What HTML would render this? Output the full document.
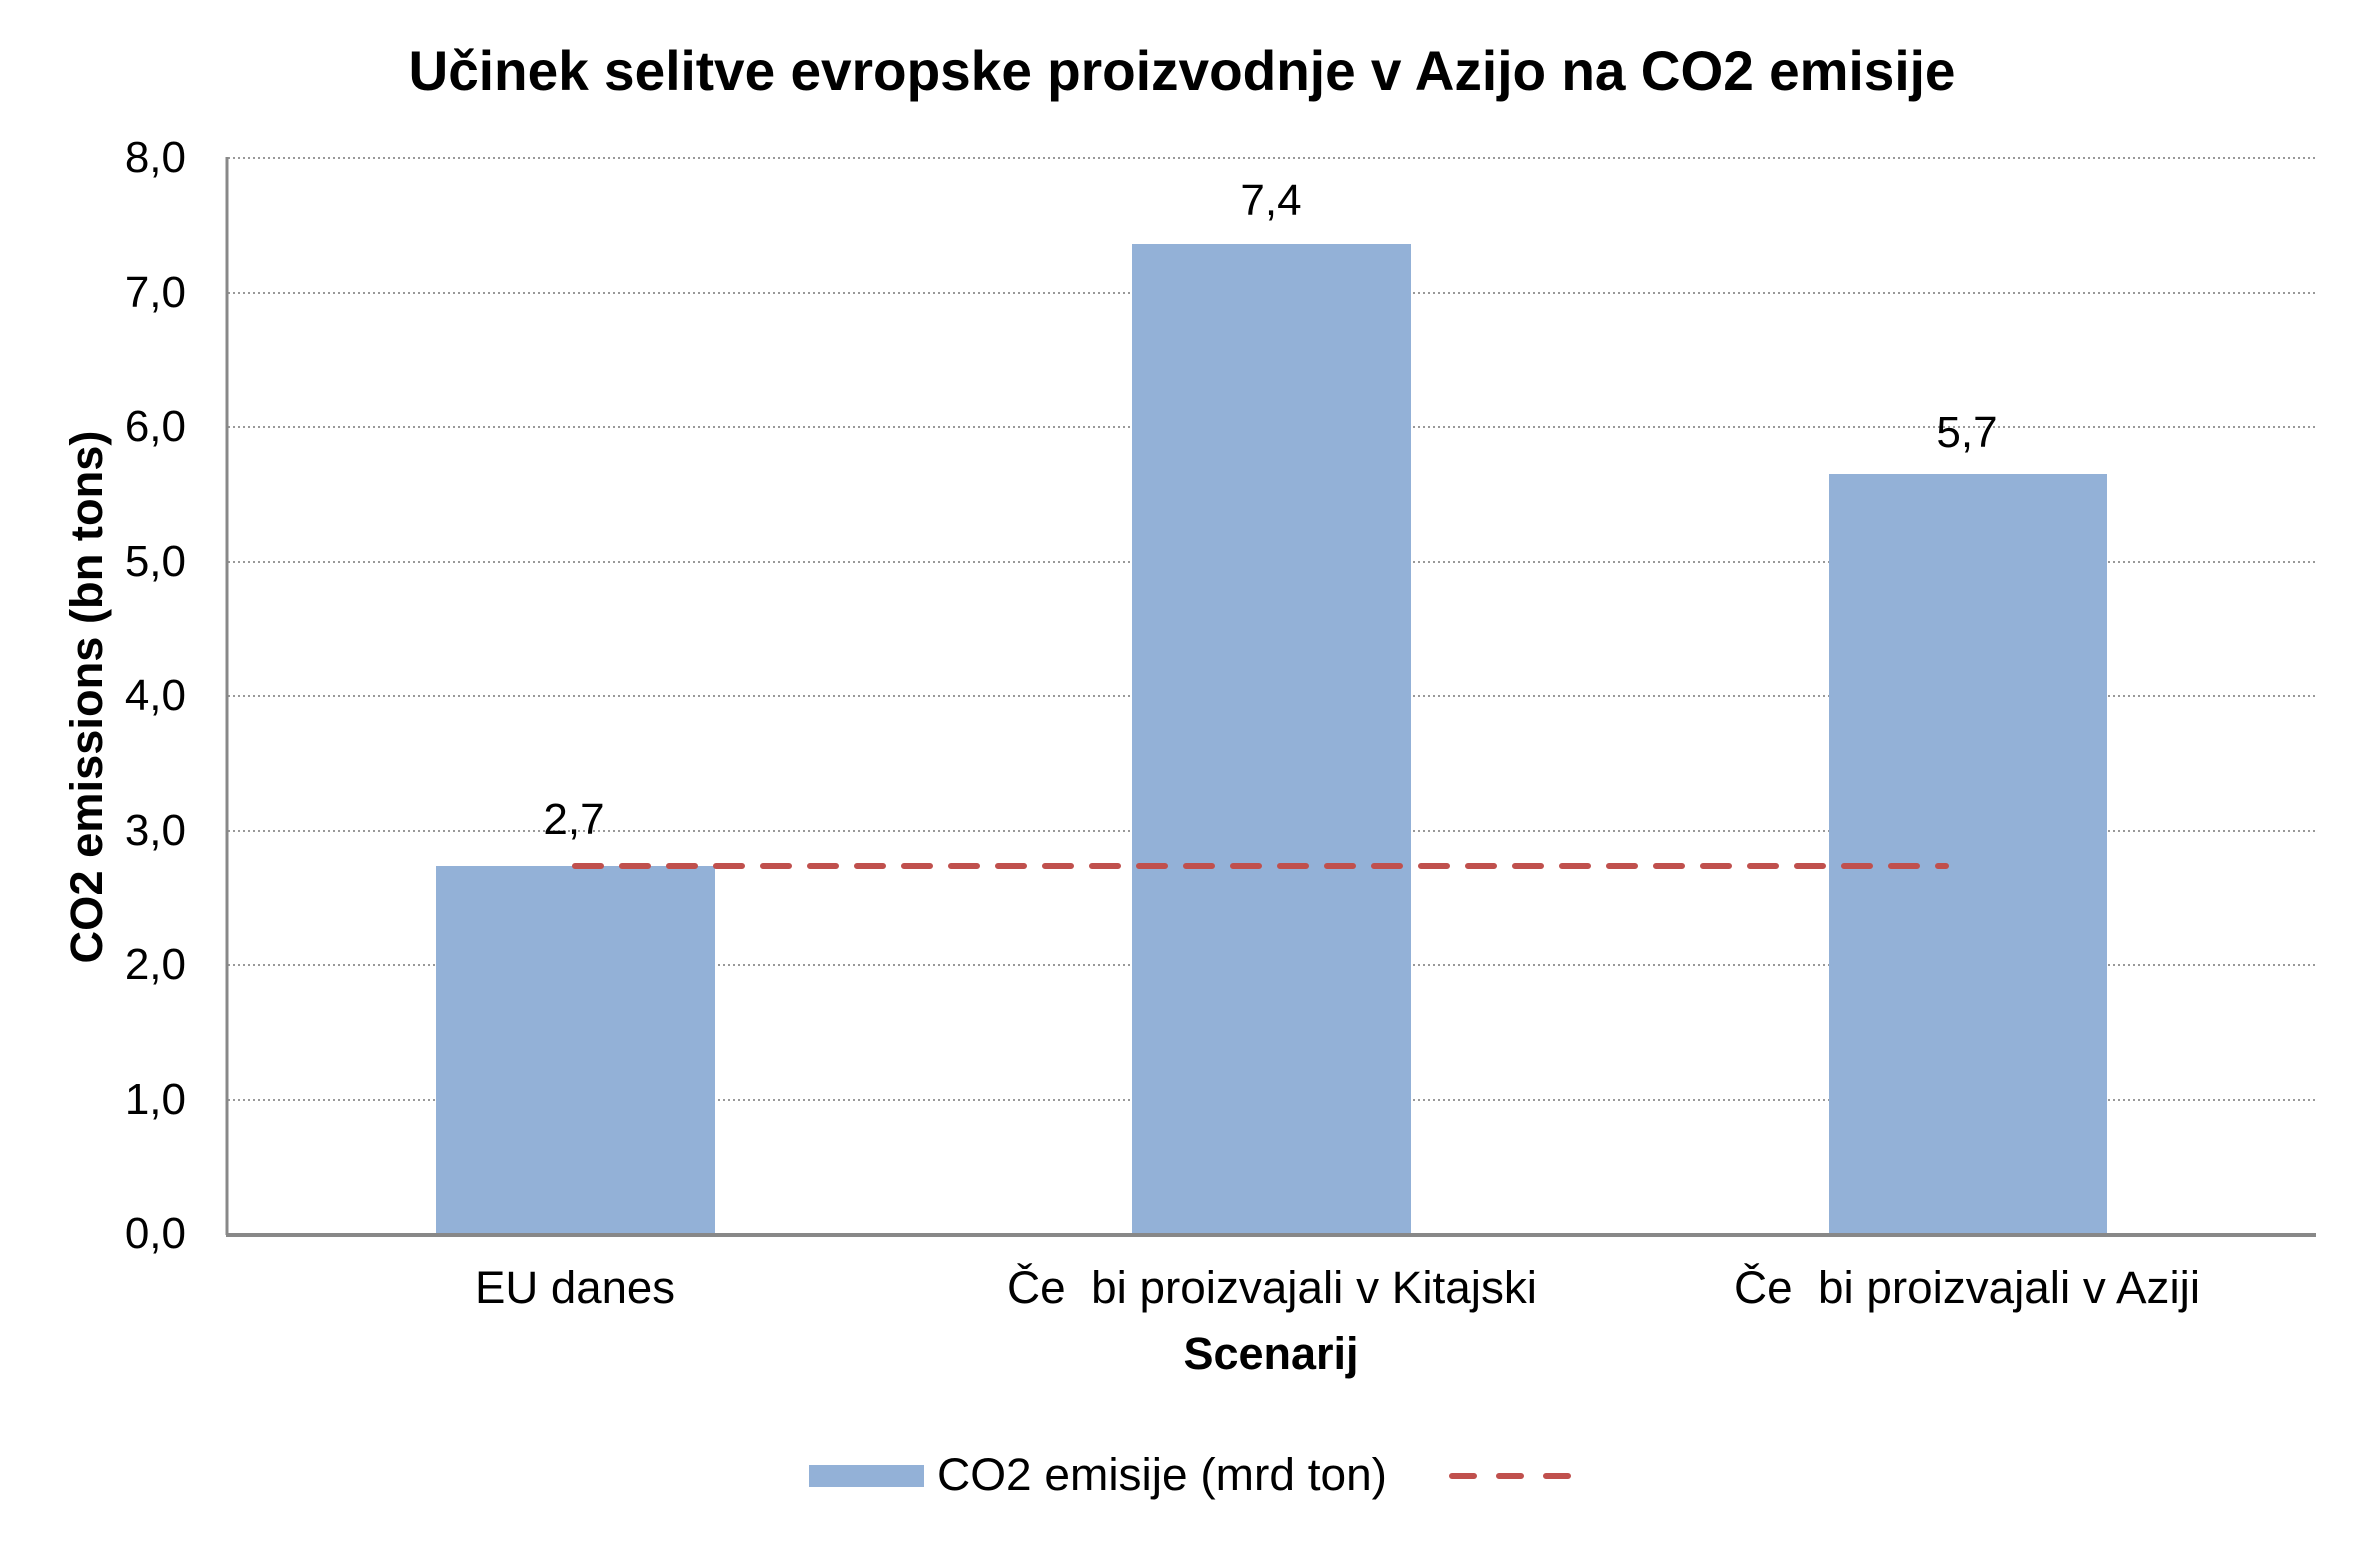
<!DOCTYPE html>
<html><head><meta charset="utf-8"><style>html,body{margin:0;padding:0;background:#fff}svg{display:block}</style></head>
<body>
<svg width="2374" height="1549" viewBox="0 0 2374 1549" xmlns="http://www.w3.org/2000/svg" font-family="Liberation Sans, Arial, sans-serif">
<rect width="2374" height="1549" fill="#fff"/>
<text x="1182" y="90" font-size="56" font-weight="bold" text-anchor="middle" textLength="1547" lengthAdjust="spacingAndGlyphs">Učinek selitve evropske proizvodnje v Azijo na CO2 emisije</text>
<g stroke="#999" stroke-width="2" stroke-dasharray="2,3">
<line x1="228" y1="158" x2="2316" y2="158"/>
<line x1="228" y1="293" x2="2316" y2="293"/>
<line x1="228" y1="427" x2="2316" y2="427"/>
<line x1="228" y1="562" x2="2316" y2="562"/>
<line x1="228" y1="696" x2="2316" y2="696"/>
<line x1="228" y1="831" x2="2316" y2="831"/>
<line x1="228" y1="965" x2="2316" y2="965"/>
<line x1="228" y1="1100" x2="2316" y2="1100"/>
</g>
<g fill="#93b1d7">
<rect x="436" y="866" width="279" height="368"/>
<rect x="1132" y="244" width="279" height="990"/>
<rect x="1829" y="474" width="278" height="760"/>
</g>
<line x1="227" y1="157" x2="227" y2="1235" stroke="#888" stroke-width="3"/>
<line x1="226" y1="1235" x2="2316" y2="1235" stroke="#888" stroke-width="4"/>
<line x1="575" y1="866" x2="1946" y2="866" stroke="#c0504d" stroke-width="6" stroke-dasharray="26,21" stroke-linecap="round"/>
<g font-size="44" text-anchor="end">
<text x="186" y="172">8,0</text>
<text x="186" y="307">7,0</text>
<text x="186" y="441">6,0</text>
<text x="186" y="576">5,0</text>
<text x="186" y="710">4,0</text>
<text x="186" y="845">3,0</text>
<text x="186" y="979">2,0</text>
<text x="186" y="1114">1,0</text>
<text x="186" y="1248">0,0</text>
</g>
<g font-size="44" text-anchor="middle">
<text x="574" y="834">2,7</text>
<text x="1271" y="215">7,4</text>
<text x="1967" y="447">5,7</text>
</g>
<g font-size="45" text-anchor="middle">
<text x="575" y="1303" textLength="200" lengthAdjust="spacingAndGlyphs">EU danes</text>
<text x="1272" y="1303" textLength="530" lengthAdjust="spacingAndGlyphs" xml:space="preserve">Če  bi proizvajali v Kitajski</text>
<text x="1967" y="1303" textLength="466" lengthAdjust="spacingAndGlyphs" xml:space="preserve">Če  bi proizvajali v Aziji</text>
</g>
<text x="1271" y="1369" font-size="45" font-weight="bold" text-anchor="middle">Scenarij</text>
<text transform="translate(102,697) rotate(-90)" font-size="45" font-weight="bold" text-anchor="middle" textLength="533" lengthAdjust="spacingAndGlyphs">CO2 emissions (bn tons)</text>
<rect x="809" y="1465" width="115" height="22" fill="#93b1d7"/>
<text x="937" y="1490" font-size="45" textLength="450" lengthAdjust="spacingAndGlyphs">CO2 emisije (mrd ton)</text>
<line x1="1452" y1="1476" x2="1570" y2="1476" stroke="#c0504d" stroke-width="6" stroke-dasharray="22,25" stroke-linecap="round"/>
</svg>
</body></html>
